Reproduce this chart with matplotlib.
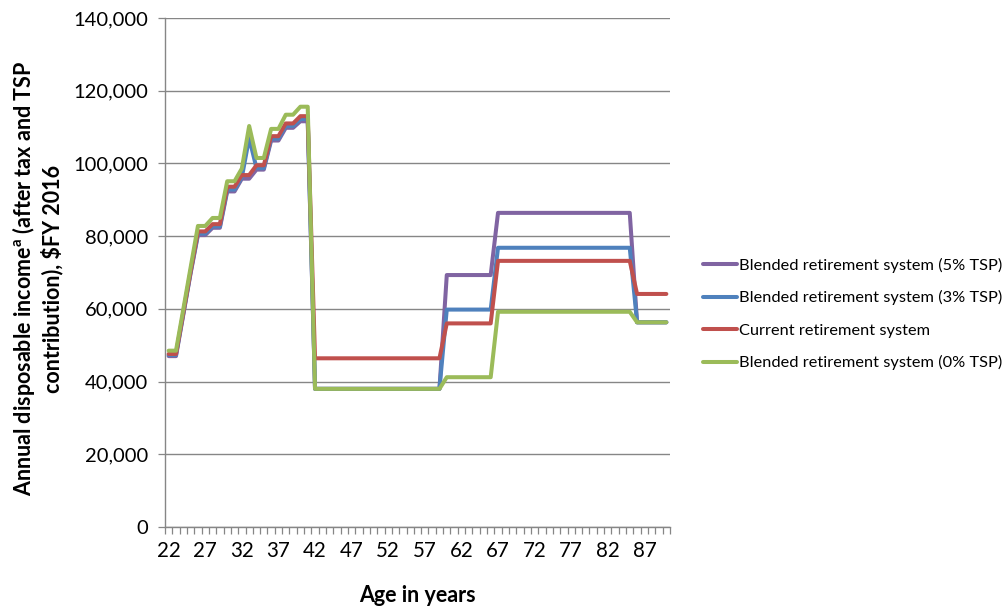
import matplotlib
matplotlib.use("Agg")
import matplotlib.pyplot as plt
from matplotlib.ticker import FuncFormatter, FixedLocator

# Age categories (one per year)
ages = list(range(22, 91))

# Annual disposable income (after tax and TSP contribution), $FY 2016
blended_5 = [
    47000, 47000, 58400, 69800, 80300, 80300, 82300, 82300, 92300, 92300,   # 22-31
    95800, 95800, 98300, 98300, 106300, 106300, 109800, 109800, 111600, 111600,  # 32-41
    38000, 38000, 38000, 38000, 38000, 38000, 38000, 38000, 38000, 38000,   # 42-51
    38000, 38000, 38000, 38000, 38000, 38000, 38000, 38000,                 # 52-59
    69300, 69300, 69300, 69300, 69300, 69300, 69300,                        # 60-66
    86400, 86400, 86400, 86400, 86400, 86400, 86400, 86400, 86400, 86400,   # 67-76
    86400, 86400, 86400, 86400, 86400, 86400, 86400, 86400, 86400,          # 77-85
    56300, 56300, 56300, 56300, 56300,                                      # 86-90
]
blended_3 = [
    47300, 47300, 58700, 70100, 80700, 80700, 82700, 82700, 92800, 92800,
    96200, 107000, 98700, 98700, 106800, 106800, 110300, 110300, 112200, 112200,
    38000, 38000, 38000, 38000, 38000, 38000, 38000, 38000, 38000, 38000,
    38000, 38000, 38000, 38000, 38000, 38000, 38000, 38000,
    59800, 59800, 59800, 59800, 59800, 59800, 59800,
    76800, 76800, 76800, 76800, 76800, 76800, 76800, 76800, 76800, 76800,
    76800, 76800, 76800, 76800, 76800, 76800, 76800, 76800, 76800,
    56300, 56300, 56300, 56300, 56300,
]
current = [
    47600, 47600, 59000, 70400, 81300, 81300, 83300, 83300, 93600, 93600,
    96800, 96800, 99500, 99500, 107500, 107500, 111000, 111000, 113000, 113000,
    46400, 46400, 46400, 46400, 46400, 46400, 46400, 46400, 46400, 46400,
    46400, 46400, 46400, 46400, 46400, 46400, 46400, 46400,
    56000, 56000, 56000, 56000, 56000, 56000, 56000,
    73200, 73200, 73200, 73200, 73200, 73200, 73200, 73200, 73200, 73200,
    73200, 73200, 73200, 73200, 73200, 73200, 73200, 73200, 73200,
    64100, 64100, 64100, 64100, 64100,
]
blended_0 = [
    48500, 48500, 59900, 71400, 82800, 82800, 85000, 85000, 95100, 95100,
    98600, 110300, 101500, 101500, 109500, 109500, 113400, 113400, 115600, 115600,
    38000, 38000, 38000, 38000, 38000, 38000, 38000, 38000, 38000, 38000,
    38000, 38000, 38000, 38000, 38000, 38000, 38000, 38000,
    41200, 41200, 41200, 41200, 41200, 41200, 41200,
    59200, 59200, 59200, 59200, 59200, 59200, 59200, 59200, 59200, 59200,
    59200, 59200, 59200, 59200, 59200, 59200, 59200, 59200, 59200,
    56300, 56300, 56300, 56300, 56300,
]

series_labels = [
    "Blended retirement system (5% TSP)",
    "Blended retirement system (3% TSP)",
    "Current retirement system",
    "Blended retirement system (0% TSP)",
]
series_colors = ["#8064A2", "#4F81BD", "#C0504D", "#9BBB59"]
age_tick_labels = [22, 27, 32, 37, 42, 47, 52, 57, 62, 67, 72, 77, 82, 87]
income_ticks = [0, 20000, 40000, 60000, 80000, 100000, 120000, 140000]

plt.rcParams["font.family"] = ["Lato", "DejaVu Sans"]
plt.rcParams["mathtext.fontset"] = "custom"
plt.rcParams["mathtext.rm"] = "Lato"
plt.rcParams["mathtext.bf"] = "Lato:bold"

fig = plt.figure(figsize=(10.08, 6.09), dpi=100)
ax = fig.add_axes([165 / 1008, 82 / 609, 505 / 1008, 509 / 609])

grid_color = "#868686"
ax.set_axisbelow(True)
ax.yaxis.grid(True, color=grid_color, linewidth=1.0)

handles = []
for vals, lab, col in zip([blended_5, blended_3, current, blended_0],
                          series_labels, series_colors):
    h, = ax.plot(ages, vals, color=col, linewidth=2.9, label=lab,
                 solid_joinstyle="round", solid_capstyle="round", zorder=3)
    handles.append(h)

ax.set_xlim(ages[0] - 0.5, ages[-1] + 0.5)
ax.set_ylim(income_ticks[0], income_ticks[-1])

ax.yaxis.set_major_locator(FixedLocator(income_ticks))
ax.yaxis.set_major_formatter(FuncFormatter(lambda v, p: f"{int(v):,}"))

ax.xaxis.set_major_locator(FixedLocator(age_tick_labels))
ax.xaxis.set_minor_locator(FixedLocator([a - 0.5 for a in ages] + [ages[-1] + 0.5]))
ax.tick_params(axis="x", which="major", length=0, pad=10, labelsize=14.8)
ax.tick_params(axis="x", which="minor", length=5, width=0.9, color=grid_color,
               direction="out")
ax.tick_params(axis="y", which="major", length=5, width=0.9, color=grid_color,
               direction="out", labelsize=14.5, pad=7)

for side in ("top", "right"):
    ax.spines[side].set_visible(False)
for side in ("left", "bottom"):
    ax.spines[side].set_color(grid_color)
    ax.spines[side].set_linewidth(1.0)

ax.set_xlabel("Age in years", fontsize=15.5, fontweight="bold")
ax.xaxis.set_label_coords(0.5, -0.113)
ax.set_ylabel("Annual disposable income$^{\\mathbf{a}}$ (after tax and TSP\n"
              "contribution), \\$FY 2016",
              fontsize=15.5, fontweight="bold", linespacing=1.2)
ax.yaxis.set_label_coords(-0.202, 0.488)

fig.legend(handles=handles, labels=series_labels, loc="center left",
           bbox_to_anchor=(703 / 1008, 1 - 314 / 609), frameon=False,
           borderpad=0, borderaxespad=0,
           fontsize=11.8, handlelength=2.1, handletextpad=0.12,
           labelspacing=1.08)

fig.savefig("out.png", dpi=100)
